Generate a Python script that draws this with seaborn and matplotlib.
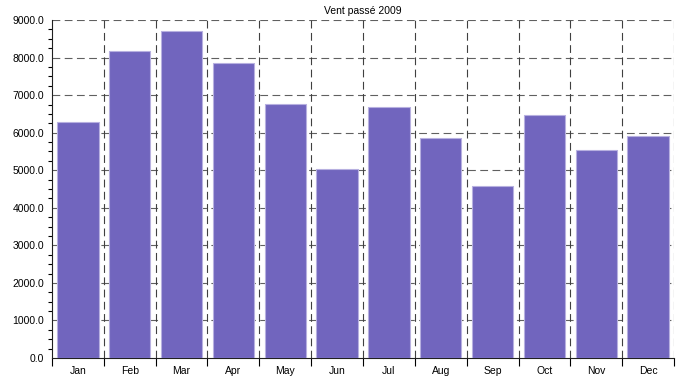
import numpy as np
import pandas as pd
import matplotlib
matplotlib.use("Agg")
import matplotlib.pyplot as plt
from matplotlib.ticker import MultipleLocator, FormatStrFormatter, FixedLocator
import seaborn as sns

months = ["Jan", "Feb", "Mar", "Apr", "May", "Jun",
          "Jul", "Aug", "Sep", "Oct", "Nov", "Dec"]
vent = [6290, 8180, 8700, 7860, 6760, 5020, 6680, 5870, 4590, 6480, 5550, 5900]

sns.set_style("white")
plt.rcParams['font.family'] = ['Liberation Sans', 'DejaVu Sans']
plt.rcParams['text.color'] = 'black'
plt.rcParams['xtick.color'] = 'black'
plt.rcParams['ytick.color'] = 'black'

df = pd.DataFrame({"mois": months, "vent": vent})

fig = plt.figure(figsize=(6.77, 3.83), dpi=100)
ax = fig.add_axes([52 / 677, 25 / 383, 622 / 677, 338 / 383])

sns.barplot(data=df, x="mois", y="vent", ax=ax, color="#7165be", saturation=1,
            width=0.8, edgecolor="#b7b0e0", linewidth=0.8, zorder=3)

ax.set_xlim(-0.5, len(months) - 0.5)
ax.set_ylim(0, 9000)
ax.set_xlabel("")
ax.set_ylabel("")
ax.set_title("Vent passé 2009", fontsize=7.5, pad=4)

# axes et graduations
ax.yaxis.set_major_locator(MultipleLocator(1000))
ax.yaxis.set_minor_locator(MultipleLocator(250))
ax.yaxis.set_major_formatter(FormatStrFormatter("%.1f"))
ax.xaxis.set_minor_locator(FixedLocator(np.arange(-0.5, len(months), 1.0)))
ax.tick_params(axis="y", which="major", direction="inout", length=7, width=0.8,
               labelsize=7.5, pad=2)
ax.tick_params(axis="y", which="minor", direction="out", length=3, width=0.8,
               left=True)
ax.tick_params(axis="x", which="major", length=0, labelsize=7.5, pad=6)
ax.tick_params(axis="x", which="minor", direction="out", length=6, width=0.8,
               bottom=True)

for s in ["top", "right"]:
    ax.spines[s].set_visible(False)
for s in ["left", "bottom"]:
    ax.spines[s].set_color("#202020")
    ax.spines[s].set_linewidth(0.8)

# grille pointillée
for y in range(1000, 9001, 1000):
    ax.axhline(y, color="#606060", linestyle=(0, (7, 4)), linewidth=0.8, zorder=1)
for x in np.arange(0.5, len(months), 1.0):
    ax.axvline(x, color="#404040", linestyle=(0, (7, 4)), linewidth=0.8, zorder=1)

fig.savefig("out.png", dpi=100)
